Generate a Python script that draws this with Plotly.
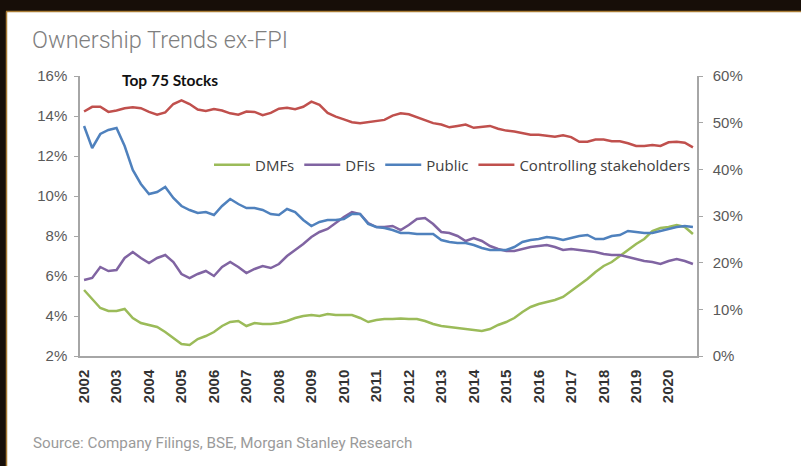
import plotly.graph_objects as go

# Quarterly data 2002Q1 .. 2020Q4
years = list(range(2002, 2021))
quarters = [2002 + i / 4 for i in range(76)]

dmfs = [5.3, 4.85, 4.4, 4.25, 4.25, 4.35, 3.9, 3.65, 3.55, 3.45, 3.2, 2.9, 2.6, 2.55, 2.85, 3.0,
        3.2, 3.5, 3.7, 3.75, 3.5, 3.65, 3.6, 3.6, 3.65, 3.75, 3.9, 4.0, 4.05, 4.0, 4.1, 4.05,
        4.05, 4.05, 3.9, 3.7, 3.8, 3.85, 3.85, 3.88, 3.85, 3.85, 3.75, 3.6, 3.5, 3.45, 3.4, 3.35,
        3.3, 3.25, 3.35, 3.55, 3.7, 3.9, 4.2, 4.45, 4.6, 4.7, 4.8, 4.95, 5.25, 5.55, 5.85, 6.2,
        6.5, 6.7, 7.0, 7.3, 7.6, 7.85, 8.25, 8.4, 8.45, 8.55, 8.45, 8.1]

dfis = [5.8, 5.9, 6.45, 6.25, 6.3, 6.9, 7.2, 6.9, 6.65, 6.9, 7.05, 6.7, 6.1, 5.9, 6.1, 6.25,
        6.0, 6.45, 6.7, 6.45, 6.15, 6.35, 6.5, 6.4, 6.6, 7.0, 7.3, 7.6, 7.95, 8.2, 8.35, 8.65,
        8.95, 9.2, 9.1, 8.65, 8.45, 8.45, 8.5, 8.3, 8.55, 8.85, 8.9, 8.6, 8.2, 8.15, 8.0, 7.75,
        7.9, 7.75, 7.5, 7.35, 7.25, 7.25, 7.35, 7.45, 7.5, 7.55, 7.45, 7.3, 7.35, 7.3, 7.25, 7.2,
        7.1, 7.05, 7.05, 6.95, 6.85, 6.75, 6.7, 6.6, 6.75, 6.85, 6.75, 6.6]

public = [13.5, 12.4, 13.1, 13.3, 13.4, 12.5, 11.3, 10.6, 10.1, 10.2, 10.45, 9.9, 9.5, 9.3, 9.15, 9.2,
          9.05, 9.5, 9.85, 9.6, 9.4, 9.4, 9.3, 9.1, 9.05, 9.35, 9.2, 8.8, 8.5, 8.7, 8.8, 8.8,
          8.85, 9.1, 9.1, 8.6, 8.45, 8.4, 8.3, 8.15, 8.15, 8.1, 8.1, 8.1, 7.8, 7.7, 7.65, 7.65,
          7.55, 7.4, 7.3, 7.3, 7.3, 7.45, 7.7, 7.8, 7.85, 7.95, 7.9, 7.8, 7.9, 8.0, 8.05, 7.85,
          7.85, 8.0, 8.05, 8.25, 8.2, 8.15, 8.15, 8.25, 8.35, 8.45, 8.5, 8.45]

controlling = [52.4, 53.4, 53.4, 52.3, 52.6, 53.1, 53.3, 53.1, 52.3, 51.7, 52.2, 54.0, 54.8, 54.0, 52.8, 52.5,
               52.9, 52.6, 52.0, 51.7, 52.4, 52.3, 51.6, 52.1, 53.0, 53.2, 52.9, 53.4, 54.5, 53.8, 52.1, 51.3,
               50.7, 50.1, 49.9, 50.1, 50.4, 50.6, 51.5, 52.0, 51.8, 51.2, 50.5, 49.9, 49.6, 49.0, 49.3, 49.6,
               48.9, 49.1, 49.3, 48.7, 48.3, 48.1, 47.7, 47.4, 47.4, 47.2, 47.0, 47.3, 46.9, 45.9, 45.9, 46.4,
               46.4, 46.0, 46.0, 45.6, 45.0, 45.0, 45.2, 45.0, 45.8, 45.9, 45.7, 44.7]

series = [
    ("DMFs", dmfs, "#9BBB59", "y"),
    ("DFIs", dfis, "#8064A2", "y"),
    ("Public", public, "#4F81BD", "y"),
    ("Controlling stakeholders", controlling, "#C0504D", "y2"),
]

fig = go.Figure()
for name, vals, color, ax in series:
    fig.add_trace(go.Scatter(x=quarters, y=vals, name=name, mode="lines",
                             line=dict(color=color, width=2.5), yaxis=ax))

W, H = 801, 466
L, R, T, B = 80, 104, 76, 110
pw, ph = W - L - R, H - T - B


def px(x):
    return (x - L) / pw


def py(y):
    return (H - B - y) / ph


tickfont = dict(family="Liberation Sans, Arial", size=15, color="#595959")
fig.update_layout(
    width=W, height=H,
    margin=dict(l=L, r=R, t=T, b=B, pad=0),
    paper_bgcolor="white", plot_bgcolor="white",
    showlegend=True,
    legend=dict(orientation="h", x=px(209), y=py(165), xanchor="left", yanchor="middle",
                bgcolor="rgba(0,0,0,0)", font=dict(family="Open Sans", size=15, color="#404040"),
                itemwidth=36, tracegroupgap=0),
    xaxis=dict(range=[2001.875, 2020.875], tickvals=years, ticktext=[str(y) for y in years],
               tickangle=-90, showline=True, linecolor="#a6a6a6", linewidth=1.5,
               showgrid=False, zeroline=False, ticks="", ticklabelstandoff=6,
               tickfont=dict(family="Liberation Sans, Arial", size=15, color="#333333", weight="bold")),
    yaxis=dict(range=[2, 16], dtick=2, ticksuffix="%", showline=True, linecolor="#a6a6a6",
               linewidth=1.5, ticks="outside", ticklen=4, tickcolor="#a6a6a6", ticklabelstandoff=4,
               showgrid=False, zeroline=False, tickfont=tickfont),
    yaxis2=dict(range=[0, 60], dtick=10, ticksuffix="%", overlaying="y", side="right",
                showline=True, linecolor="#a6a6a6", linewidth=1.5, ticks="outside", ticklen=4,
                tickcolor="#a6a6a6", ticklabelstandoff=7,
                showgrid=False, zeroline=False, tickfont=tickfont),
    annotations=[
        dict(text="Ownership Trends ex-FPI", xref="paper", yref="paper", x=px(30), y=py(40),
             xanchor="left", yanchor="middle", showarrow=False,
             font=dict(family="Roboto", size=23.5, color="#7f7f7f", weight=300)),
        dict(text="<b>Top 75 Stocks</b>", xref="paper", yref="paper", x=px(120), y=py(80),
             xanchor="left", yanchor="middle", showarrow=False,
             font=dict(family="Lato", size=15.5, color="#111111")),
        dict(text="Source: Company Filings, BSE, Morgan Stanley Research", xref="paper", yref="paper",
             x=px(31), y=py(443), xanchor="left", yanchor="middle", showarrow=False,
             font=dict(family="Roboto", size=15.2, color="#9a9a9a")),
    ],
    shapes=[
        dict(type="rect", xref="paper", yref="paper", x0=px(-2), x1=px(W + 2), y0=py(11), y1=py(-2),
             fillcolor="#170e08", line=dict(width=0), layer="above"),
        dict(type="rect", xref="paper", yref="paper", x0=px(-2), x1=px(6), y0=py(H + 2), y1=py(0),
             fillcolor="#170e08", line=dict(width=0), layer="above"),
        dict(type="line", xref="paper", yref="paper", x0=px(6), x1=px(W + 2), y0=py(11.5), y1=py(11.5),
             line=dict(color="#a97c35", width=1.5), layer="above"),
        dict(type="line", xref="paper", yref="paper", x0=px(6.5), x1=px(6.5), y0=py(H + 2), y1=py(11.5),
             line=dict(color="#a97c35", width=1.5), layer="above"),
    ],
)

fig.write_html("out.html")
